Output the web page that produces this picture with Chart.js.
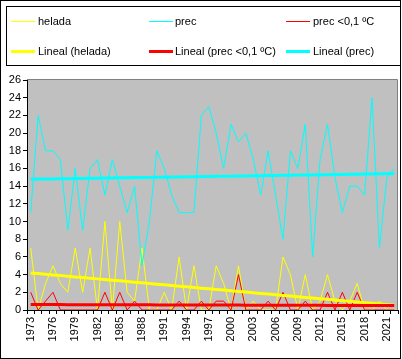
<!DOCTYPE html>
<html>
<head>
<meta charset="utf-8">
<script src="https://cdn.jsdelivr.net/npm/chart.js@4/dist/chart.umd.min.js"></script>
<style>
  html, body { margin: 0; padding: 0; background: #fff; }
  #wrap { position: relative; width: 402px; height: 359px; overflow: hidden; }
  #c { position: absolute; left: 0; top: 0; }
  #legend { position: absolute; left: 0; top: 0; width: 402px; height: 70px;
            font-family: "Liberation Sans", Arial, sans-serif; font-size: 11px; color: #000; }
  .li { position: absolute; height: 15px; line-height: 15px; white-space: nowrap; }
  .li .sw { position: absolute; left: 0; width: 24px; }
  .li .tx { position: absolute; top: 0; }
</style>
</head>
<body>
<div id="wrap">
  <canvas id="c" width="402" height="359"></canvas>
  <div id="legend"></div>
</div>
<script>
// ---- data ----
const years = ["1973","1974","1975","1976","1977","1978","1979","1980","1981","1982",
               "1983","1984","1985","1986","1987","1988","1989","1990","1991","1992",
               "1993","1994","1995","1996","1997","1998","1999","2000","2001","2002",
               "2003","2004","2005","2006","2007","2008","2009","2010","2011","2012",
               "2013","2014","2015","2016","2017","2018","2019","2020","2021","2022"];

const helada = [7,0,3,5,3,2,7,2,7,0, 10,0,10,2,1,7,0,0,2,0, 6,0,5,0,0,5,3,0,5,0,
                1,0,0,0,6,4,0,4,0,1, 4,1,0,1,3,0,0,1,0,0];

const prec = [11,22,18,18,17,9,16,9,16,17, 13,17,14,11,14,5,10,18,16,13,
              11,11,11,22,23,20,16,21,19,20, 17,13,18,13,8,18,16,21,6,17,
              21,15,11,14,14,13,24,7,15,16];

const precBajo0 = [2,0,1,2,0,0,0,0,0,0, 2,0,2,0,1,0,0,0,0,0, 1,0,0,1,0,1,1,0,4,0,
                   0,0,1,0,2,0,0,1,0,0, 2,0,2,0,2,0,0,0,0,0];

const yTicks = { min: 0, max: 26, step: 2 };
const labelEvery = 3;

// Excel-style linear trendline (least squares) of a series
function linearTrend(arr) {
  const n = arr.length;
  let sx = 0, sy = 0, sxx = 0, sxy = 0;
  arr.forEach((y, i) => { sx += i; sy += y; sxx += i * i; sxy += i * y; });
  const b = (n * sxy - sx * sy) / (n * sxx - sx * sx);
  const a = (sy - b * sx) / n;
  return arr.map((_, i) => a + b * i);
}

const YELLOW = '#FFFF00', CYAN = '#00FFFF', RED = '#FF0000';

const datasets = [
  { label: 'helada', data: helada, borderColor: YELLOW, borderWidth: 1, order: 5 },
  { label: 'prec', data: prec, borderColor: CYAN, borderWidth: 1, order: 4 },
  { label: 'prec <0,1 ºC', data: precBajo0, borderColor: RED, borderWidth: 1, order: 3 },
  { label: 'Lineal (helada)', data: linearTrend(helada), borderColor: YELLOW, borderWidth: 3, order: 1 },
  { label: 'Lineal (prec <0,1 ºC)', data: linearTrend(precBajo0), borderColor: RED, borderWidth: 3, order: 0 },
  { label: 'Lineal (prec)', data: linearTrend(prec), borderColor: CYAN, borderWidth: 3, order: 2 }
];
datasets.forEach(d => { d.pointRadius = 0; d.pointHoverRadius = 0; d.tension = 0; d.fill = false; d.borderJoinStyle = 'miter'; });

const framePlugin = {
  id: 'frame',
  beforeDraw(chart) {
    const { ctx, chartArea: a } = chart;
    ctx.save();
    ctx.fillStyle = '#fff';
    ctx.fillRect(0, 0, chart.width, chart.height);
    ctx.fillStyle = '#C0C0C0';
    ctx.fillRect(a.left, a.top, a.right - a.left, a.bottom - a.top);
    ctx.restore();
  },
  afterDraw(chart) {
    const { ctx, chartArea: a } = chart;
    ctx.save();
    ctx.lineWidth = 1;
    // plot area grey border (top + right)
    ctx.strokeStyle = '#808080';
    ctx.beginPath();
    ctx.moveTo(a.left, a.top - 0.5);
    ctx.lineTo(a.right - 0.5, a.top - 0.5);
    ctx.lineTo(a.right - 0.5, a.bottom);
    ctx.stroke();
    // outer chart frame
    ctx.strokeStyle = '#000';
    ctx.strokeRect(0.5, 0.5, 400, 358);
    // legend box
    ctx.strokeRect(6.5, 6.5, 394, 59);
    ctx.restore();
  }
};

const FONT = { family: '"Liberation Sans", Arial, sans-serif', size: 11 };

const chart = new Chart(document.getElementById('c'), {
  type: 'line',
  data: { labels: years, datasets: datasets },
  options: {
    responsive: false,
    animation: false,
    events: [],
    layout: { padding: { top: 80, right: 4, left: 0, bottom: 0 } },
    plugins: { legend: { display: false }, tooltip: { enabled: false } },
    scales: {
      x: {
        type: 'category',
        offset: true,
        grid: { offset: true, drawOnChartArea: false, drawTicks: true, tickLength: 4, color: '#000' },
        border: { display: true, color: '#000', width: 1 },
        ticks: {
          autoSkip: false, maxRotation: 90, minRotation: 90, padding: 3,
          color: '#000', font: FONT,
          callback: function (v, i) { return i % labelEvery === 0 ? years[i] : ''; }
        },
        afterFit(scale) { scale.height = 49; scale.paddingLeft = 0; scale.paddingRight = 0; }
      },
      y: {
        min: yTicks.min, max: yTicks.max,
        grid: { drawOnChartArea: false, drawTicks: true, tickLength: 4, color: '#000' },
        border: { display: true, color: '#000', width: 1 },
        ticks: { stepSize: yTicks.step, padding: 2, color: '#000', font: FONT },
        afterFit(scale) { scale.width = 27; scale.paddingTop = 0; scale.paddingBottom = 0; }
      }
    }
  },
  plugins: [framePlugin]
});

// HTML legend built from the chart's datasets (3 columns x 2 rows)
const legendOrder = [0, 1, 2, 3, 4, 5];
const colX = [11, 149, 286];
const textOff = [27, 26, 27];
const rowY = [21.5, 51];
const legend = document.getElementById('legend');
legendOrder.forEach((di, k) => {
  const ds = chart.data.datasets[di];
  const col = k % 3, row = Math.floor(k / 3);
  const item = document.createElement('div');
  item.className = 'li';
  item.style.left = colX[col] + 'px';
  item.style.top = (rowY[row] - 7.5) + 'px';
  const sw = document.createElement('div');
  sw.className = 'sw';
  sw.style.height = ds.borderWidth + 'px';
  sw.style.top = (7.5 - ds.borderWidth / 2) + 'px';
  sw.style.background = ds.borderColor;
  const tx = document.createElement('span');
  tx.className = 'tx';
  tx.style.left = textOff[col] + 'px';
  tx.textContent = ds.label;
  item.appendChild(sw);
  item.appendChild(tx);
  legend.appendChild(item);
});
</script>
</body>
</html>
